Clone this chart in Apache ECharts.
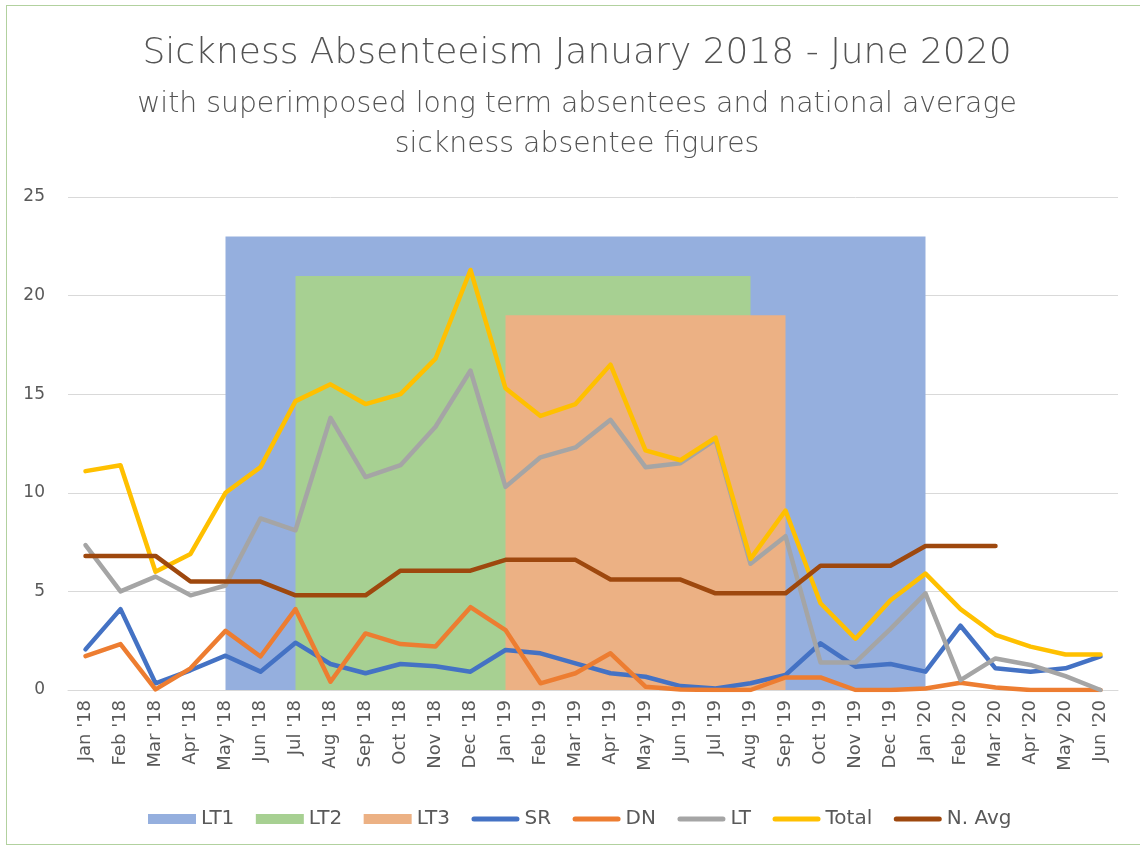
<!DOCTYPE html>
<html>
<head>
<meta charset="utf-8">
<script src="https://cdn.jsdelivr.net/npm/echarts@6/dist/echarts.min.js"></script>
<style>
html,body{margin:0;padding:0;background:#fff;}
#chart{width:1140px;height:848px;}
#frame{position:absolute;left:6px;top:5px;width:1150px;height:840px;border:1px solid #b2d19f;box-sizing:border-box;pointer-events:none;}
</style>
</head>
<body>
<div id="chart"></div>
<div id="frame"></div>
<script>
const categories = ["Jan '18","Feb '18","Mar '18","Apr '18","May '18","Jun '18","Jul '18","Aug '18","Sep '18","Oct '18","Nov '18","Dec '18",
  "Jan '19","Feb '19","Mar '19","Apr '19","May '19","Jun '19","Jul '19","Aug '19","Sep '19","Oct '19","Nov '19","Dec '19",
  "Jan '20","Feb '20","Mar '20","Apr '20","May '20","Jun '20"];
const yTicks = [0, 5, 10, 15, 20, 25];
const lt1 = [null,null,null,null,23,23,23,23,23,23,23,23,23,23,23,23,23,23,23,23,23,23,23,23,23,null,null,null,null,null];
const lt2 = [null,null,null,null,null,null,21,21,21,21,21,21,21,21,21,21,21,21,21,21,null,null,null,null,null,null,null,null,null,null];
const lt3 = [null,null,null,null,null,null,null,null,null,null,null,null,19,19,19,19,19,19,19,19,19,null,null,null,null,null,null,null,null,null];
const sr = [2.06,4.1,0.34,1.0,1.74,0.93,2.4,1.32,0.85,1.32,1.2,0.93,2.03,1.86,1.35,0.85,0.67,0.2,0.08,0.34,0.76,2.37,1.18,1.32,0.93,3.26,1.1,0.93,1.1,1.7];
const dn = [1.72,2.33,0.03,1.1,3.0,1.7,4.1,0.42,2.87,2.33,2.2,4.2,3.04,0.34,0.85,1.86,0.17,0.03,0,0,0.64,0.64,0,0,0.08,0.37,0.13,0,0,0];
const lt = [7.35,5.0,5.75,4.8,5.3,8.7,8.1,13.8,10.8,11.4,13.35,16.2,10.3,11.8,12.3,13.7,11.3,11.5,12.7,6.4,7.8,1.4,1.4,3.1,4.9,0.5,1.6,1.27,0.7,0];
const total = [11.1,11.4,6.0,6.9,10.0,11.3,14.65,15.5,14.5,15.0,16.8,21.3,15.3,13.9,14.5,16.5,12.15,11.65,12.8,6.65,9.1,4.4,2.6,4.55,5.9,4.1,2.8,2.2,1.8,1.8];
const nAvg = [6.8,6.8,6.8,5.5,5.5,5.5,4.8,4.8,4.8,6.05,6.05,6.05,6.6,6.6,6.6,5.6,5.6,5.6,4.9,4.9,4.9,6.3,6.3,6.3,7.3,7.3,7.3,null,null,null];

const FONT = '"DejaVu Sans", "Open Sans", sans-serif';
const TXT = '#595959';
const lineIcon = 'path://M2.5,0 H45.5 A2.5,2.5 0 0 1 45.5,5 H2.5 A2.5,2.5 0 0 1 2.5,0 Z';

function areaSeries(name, data, color) {
  return { name, type: 'line', data, symbol: 'none', connectNulls: false,
    itemStyle: { color }, lineStyle: { width: 0, color }, areaStyle: { color, opacity: 1 }, z: 1 };
}
function lineSeries(name, data, color) {
  return { name, type: 'line', data, symbol: 'none', smooth: false, connectNulls: false,
    itemStyle: { color }, lineStyle: { width: 4.5, color, cap: 'round', join: 'round' }, z: 3 };
}

const chart = echarts.init(document.getElementById('chart'), null, { renderer: 'canvas' });
chart.setOption({
  backgroundColor: 'transparent',
  textStyle: { fontFamily: FONT },
  animation: false,
  title: {
    text: 'Sickness Absenteeism January 2018 - June 2020',
    subtext: 'with superimposed long term absentees and national average\nsickness absentee figures',
    left: 572, top: 31, textAlign: 'center', itemGap: 13,
    textStyle: { fontFamily: FONT, fontSize: 36, fontWeight: 200, color: '#545454' },
    subtextStyle: { fontFamily: FONT, fontSize: 28.3, fontWeight: 200, color: '#545454', lineHeight: 40, align: 'center' }
  },
  legend: {
    left: 143, top: 804, itemWidth: 48, itemHeight: 10, itemGap: 21.5,
    textStyle: { fontFamily: FONT, fontSize: 20, color: TXT },
    data: [
      { name: 'LT1', icon: 'rect' }, { name: 'LT2', icon: 'rect' }, { name: 'LT3', icon: 'rect' },
      { name: 'SR', icon: lineIcon }, { name: 'DN', icon: lineIcon }, { name: 'LT', icon: lineIcon },
      { name: 'Total', icon: lineIcon }, { name: 'N. Avg', icon: lineIcon }
    ]
  },
  grid: { left: 68, right: 22, top: 197, bottom: 158, containLabel: false },
  xAxis: {
    type: 'category', data: categories, boundaryGap: true,
    axisLine: { show: true, lineStyle: { color: '#d9d9d9', width: 1 } },
    axisTick: { show: false },
    axisLabel: { interval: 0, rotate: 90, fontSize: 18, color: TXT, margin: 10, fontFamily: FONT }
  },
  yAxis: {
    type: 'value', min: yTicks[0], max: yTicks[yTicks.length - 1], interval: yTicks[1] - yTicks[0],
    axisLine: { show: false }, axisTick: { show: false },
    splitLine: { lineStyle: { color: '#d9d9d9', width: 1 } },
    axisLabel: { fontSize: 17, color: TXT, margin: 23, fontFamily: FONT }
  },
  series: [
    areaSeries('LT1', lt1, '#95afde'),
    areaSeries('LT2', lt2, '#a7d092'),
    areaSeries('LT3', lt3, '#ecb184'),
    lineSeries('SR', sr, '#4472c4'),
    lineSeries('DN', dn, '#ed7d31'),
    lineSeries('LT', lt, '#a5a5a5'),
    lineSeries('Total', total, '#ffc000'),
    lineSeries('N. Avg', nAvg, '#9e480e')
  ]
});
</script>
</body>
</html>
